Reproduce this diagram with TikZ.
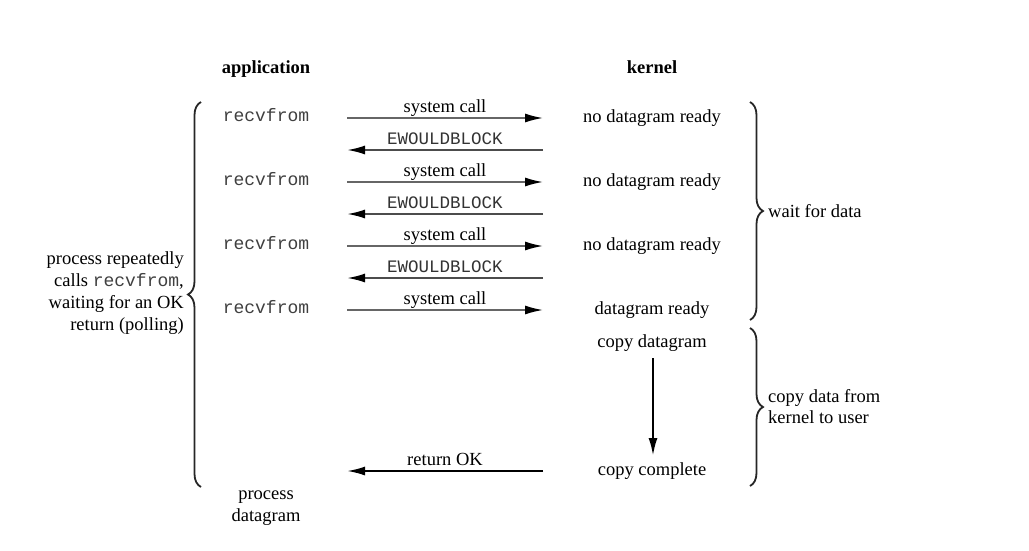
\documentclass[tikz,border=0pt]{standalone}
\usepackage{fontspec}
\setmainfont{Liberation Serif}
\setmonofont{Liberation Mono}
\usetikzlibrary{arrows.meta,decorations.pathreplacing}
\begin{document}
\begin{tikzpicture}[x=1pt,y=-1pt,
  font=\fontsize{18.5}{22}\selectfont,
  txt/.style={inner sep=0pt,anchor=base},
  mono/.style={txt,text=black!75,font=\fontsize{18}{22}\ttfamily},
  hdr/.style={txt,font=\fontsize{18.5}{22}\selectfont\bfseries},
  lbl/.style={midway,inner sep=0pt,anchor=base,yshift=6pt},
  monolbl/.style={lbl,text=black!80,font=\fontsize{17.5}{22}\ttfamily},
  callarrow/.style={draw=black!60,line width=1.6pt,-{Latex[length=18pt,width=9pt,color=black]}},
  backarrow/.style={draw=black!70,line width=2pt,-{Latex[length=18pt,width=9pt,color=black]}},
  okarrow/.style={draw=black,line width=2pt,-{Latex[length=18pt,width=9pt]}},
  downarrow/.style={draw=black,line width=2.4pt,-{Latex[length=18pt,width=9pt]}},
  bracestyle/.style={draw=black!85,line width=1.8pt,decorate,decoration={brace,amplitude=13pt}}]
\useasboundingbox (0,0) rectangle (1029,550);
\fill[white] (0,0) rectangle (1029,550);

% headers
\node[hdr] (happ) at (266,73) {application};
\node[hdr] (hker) at (652,73) {kernel};

% application column
\node[mono] (r1) at (266,121) {recvfrom};
\node[mono] (r2) at (266,185) {recvfrom};
\node[mono] (r3) at (266,249) {recvfrom};
\node[mono] (r4) at (266,313) {recvfrom};

% kernel column
\node[txt] (k1) at (652,122) {no datagram ready};
\node[txt] (k2) at (652,186) {no datagram ready};
\node[txt] (k3) at (652,250) {no datagram ready};
\node[txt] (k4) at (652,314) {datagram ready};
\node[txt] (k5) at (652,347) {copy datagram};
\node[txt] (k6) at (652,475) {copy complete};

% arrow end points
\coordinate (L1) at (347,118); \coordinate (R1) at (543,118);
\coordinate (L2) at (347,150); \coordinate (R2) at (543,150);
\coordinate (L3) at (347,182); \coordinate (R3) at (543,182);
\coordinate (L4) at (347,214); \coordinate (R4) at (543,214);
\coordinate (L5) at (347,246); \coordinate (R5) at (543,246);
\coordinate (L6) at (347,278); \coordinate (R6) at (543,278);
\coordinate (L7) at (347,310); \coordinate (R7) at (543,310);
\coordinate (L8) at (347,471); \coordinate (R8) at (543,471);
\coordinate (D1) at (653,358); \coordinate (D2) at (653,456);

\draw[callarrow] (L1) -- node[lbl] {system call} (R1);
\draw[backarrow] (R2) -- node[monolbl] {EWOULDBLOCK} (L2);
\draw[callarrow] (L3) -- node[lbl] {system call} (R3);
\draw[backarrow] (R4) -- node[monolbl] {EWOULDBLOCK} (L4);
\draw[callarrow] (L5) -- node[lbl] {system call} (R5);
\draw[backarrow] (R6) -- node[monolbl] {EWOULDBLOCK} (L6);
\draw[callarrow] (L7) -- node[lbl] {system call} (R7);
\draw[okarrow] (R8) -- node[lbl] {return OK} (L8);
\draw[downarrow] (D1) -- (D2);

% process datagram
\node[txt] (p1) at (266,499) {process};
\node[txt] (p2) at (266,521) {datagram};

% left brace and text
\coordinate (B1a) at (201,487); \coordinate (B1b) at (201,102);
\draw[bracestyle] (B1a) -- (B1b);
\node[inner sep=0pt,anchor=base east] (lt1) at (184,264) {process repeatedly};
\node[inner sep=0pt,anchor=base east] (lt2) at (184,286) {calls {\color{black!75}\fontsize{18}{22}\ttfamily recvfrom},};
\node[inner sep=0pt,anchor=base east] (lt3) at (184,308) {waiting for an OK};
\node[inner sep=0pt,anchor=base east] (lt4) at (184,330) {return (polling)};

% right braces
\coordinate (B2a) at (750,102); \coordinate (B2b) at (750,320);
\draw[bracestyle] (B2a) -- (B2b);
\node[txt,anchor=base west] (w1) at (768,217) {wait for data};

\coordinate (B3a) at (750,328); \coordinate (B3b) at (750,486);
\draw[bracestyle] (B3a) -- (B3b);
\node[txt,anchor=base west] (c1) at (768,402) {copy data from};
\node[txt,anchor=base west] (c2) at (768,423) {kernel to user};
\end{tikzpicture}
\end{document}
